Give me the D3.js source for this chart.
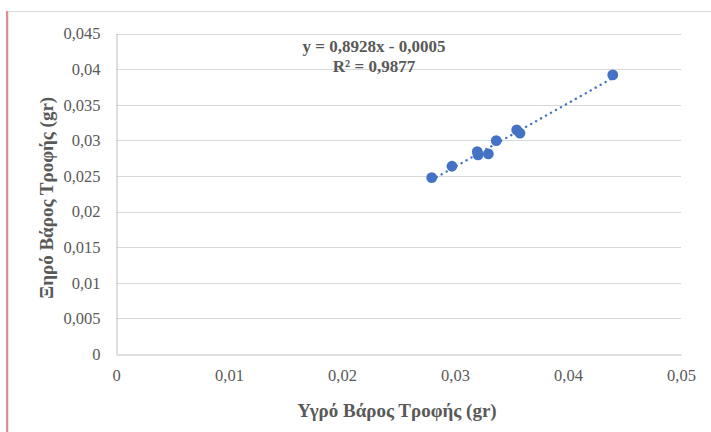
<!DOCTYPE html>
<html><head><meta charset="utf-8">
<script src="https://cdn.jsdelivr.net/npm/d3@7"></script>
<style>html,body{margin:0;padding:0;background:#fff;}svg{display:block;}</style>
</head><body>
<svg id="c" width="711" height="432"></svg>
<script>
const xValues = [0.02794, 0.02973, 0.03197, 0.03204, 0.03295, 0.03365, 0.03546, 0.03575, 0.04396];
const yValues = [0.02476, 0.02636, 0.02841, 0.02795, 0.02809, 0.02996, 0.03146, 0.03100, 0.03919];
const xTicks = [0, 0.01, 0.02, 0.03, 0.04, 0.05];
const yTicks = [0, 0.005, 0.01, 0.015, 0.02, 0.025, 0.03, 0.035, 0.04, 0.045];
const slope = 0.8928, intercept = -0.0005;
const eqText = "y = 0,8928x - 0,0005";
const r2Text = "R² = 0,9877";
const xTitle = "Υγρό Βάρος Τροφής (gr)";
const yTitle = "Ξηρό Βάρος Τροφής (gr)";

const svg = d3.select("#c");
const L = 116, R = 681, T = 33.5, B = 354;
const x = d3.scaleLinear().domain([0, 0.05]).range([L, R]);
const y = d3.scaleLinear().domain([0, 0.045]).range([B, T]);
const fmt = d => d === 0 ? "0" : String(+d.toFixed(3)).replace(".", ",");
const font = "Liberation Serif, Times New Roman, serif";
const grey = "#595959";

// chart border
svg.append("line").attr("x1", 8).attr("x2", 711).attr("y1", 11.5).attr("y2", 11.5).attr("stroke", "#d9d9d9");
svg.append("line").attr("x1", 7).attr("x2", 7).attr("y1", 11).attr("y2", 432).attr("stroke", "#d46a6a").attr("stroke-width", 1.5);
svg.append("line").attr("x1", 8.5).attr("x2", 8.5).attr("y1", 11).attr("y2", 432).attr("stroke", "#e6e6e6").attr("stroke-width", 1);

// gridlines
svg.append("g").selectAll("line").data(yTicks.filter(d => d > 0)).join("line")
  .attr("x1", L).attr("x2", R).attr("y1", d => Math.round(y(d)) + 0.5).attr("y2", d => Math.round(y(d)) + 0.5)
  .attr("stroke", "#d9d9d9").attr("stroke-width", 1);

// axes
const yAxis = svg.append("g").attr("transform", `translate(${L + 0.5},0)`)
  .call(d3.axisLeft(y).tickValues(yTicks).tickFormat(fmt).tickSize(0).tickPadding(16));
const xAxis = svg.append("g").attr("transform", `translate(0,${B + 0.5})`)
  .call(d3.axisBottom(x).tickValues(xTicks).tickFormat(fmt).tickSize(0).tickPadding(15));
[xAxis, yAxis].forEach(a => {
  a.attr("font-family", font).attr("font-size", 16.5);
  a.select(".domain").attr("stroke", "#bfbfbf").attr("stroke-width", 1);
  a.selectAll("text").attr("fill", grey);
});

// trendline
const x0 = d3.min(xValues), x1 = d3.max(xValues);
svg.append("line")
  .attr("x1", x(x0)).attr("y1", y(slope * x0 + intercept))
  .attr("x2", x(x1)).attr("y2", y(slope * x1 + intercept))
  .attr("stroke", "#4472C4").attr("stroke-width", 2.4)
  .attr("stroke-linecap", "round").attr("stroke-dasharray", "0.1 5.6");

// points
svg.append("g").selectAll("circle").data(xValues.map((v, i) => [v, yValues[i]])).join("circle")
  .attr("cx", d => x(d[0])).attr("cy", d => y(d[1])).attr("r", 5.4).attr("fill", "#4472C4");

// equation
const eq = svg.append("text").attr("font-family", font).attr("font-weight", "bold")
  .attr("font-size", 17).attr("fill", grey).attr("text-anchor", "middle");
eq.append("tspan").attr("x", 374).attr("y", 52).text(eqText);
eq.append("tspan").attr("x", 374).attr("y", 72).text(r2Text);

// axis titles
svg.append("text").attr("x", 397).attr("y", 416.5).attr("text-anchor", "middle")
  .attr("font-family", font).attr("font-weight", "bold").attr("font-size", 19).attr("fill", grey).text(xTitle);
svg.append("text").attr("transform", `translate(46,${(T + B) / 2 + 4}) rotate(-90)`).attr("text-anchor", "middle")
  .attr("dy", "0.35em")
  .attr("font-family", font).attr("font-weight", "bold").attr("font-size", 19).attr("fill", grey).text(yTitle);
</script>
</body></html>
